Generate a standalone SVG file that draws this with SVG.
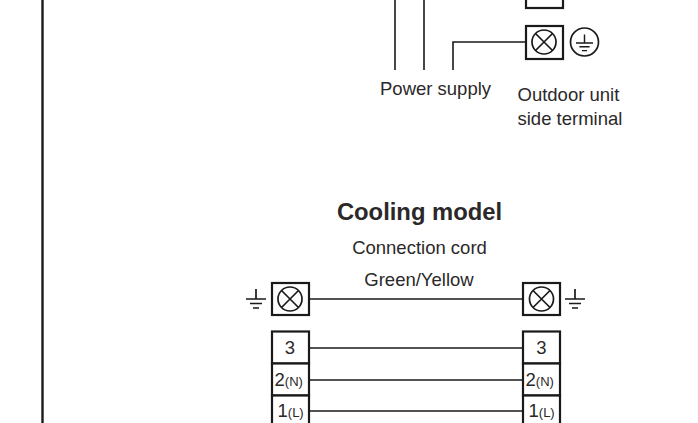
<svg xmlns="http://www.w3.org/2000/svg" width="698" height="423" viewBox="0 0 698 423">
<style>
.b{fill:#fff;stroke:#1a1a1a;stroke-width:2.2}
.w{fill:none;stroke:#1a1a1a;stroke-width:1.6}
.c{fill:none;stroke:#1a1a1a;stroke-width:1.7}
text{font-family:"Liberation Sans",Arial,sans-serif;fill:#2b2829;font-size:18.5px}
.n{font-size:18.500px}
.m{text-anchor:middle}
.s{font-size:13px}
</style>
<defs>
<g id="x"><circle r="12" class="c"/><path d="M-8.500-8.500L8.500 8.500M-8.500 8.500L8.500-8.500" class="c"/></g>
<g id="g"><path d="M0-10V0M-10 0H10M-6 4.500H6M-3 9H3" class="c"/></g>
</defs>
<rect width="698" height="423" fill="#fff"/>
<path d="M42.500 0V423" fill="none" stroke="#1a1a1a" stroke-width="2.400"/>
<g id="connectors">
<path class="w" d="M395 0V70M424 0V70M453 70V42H526"/>
<path class="w" d="M309 299H523M309 348H523M309 380H523M309 411H523"/>
</g>
<g id="outdoor-terminal-top"><rect class="b" x="526" y="-10" width="37" height="18"/></g>
<g id="outdoor-earth"><rect class="b" x="526" y="26" width="37" height="33"/><use href="#x" x="544" y="42"/><circle cx="584.500" cy="42" r="14" class="c"/><use href="#g" transform="translate(584.500 43) scale(.85)"/></g>
<g id="power-supply-label"><text x="380" y="95">Power supply</text></g>
<g id="outdoor-label"><text x="517.500" y="101">Outdoor unit</text><text x="517.500" y="125">side terminal</text></g>
<g id="title"><text x="419.500" y="220" text-anchor="middle" font-weight="bold" style="font-size:23.800px">Cooling model</text></g>
<g id="cord-label"><text x="419.500" y="254" class="m">Connection cord</text><text x="419" y="286" class="m">Green/Yellow</text></g>
<g id="left-earth"><rect class="b" x="272" y="283" width="37" height="32"/><use href="#x" x="290" y="299"/><use href="#g" x="256" y="299"/></g>
<g id="right-earth"><rect class="b" x="523" y="283" width="37" height="32"/><use href="#x" x="541.500" y="299"/><use href="#g" x="575" y="299"/></g>
<g id="left-terminals"><rect class="b" x="272" y="331.500" width="37" height="32"/><rect class="b" x="272" y="363.500" width="37" height="32"/><rect class="b" x="272" y="395.500" width="37" height="40"/>
<text class="n m" x="290" y="354">3</text><text class="n" x="274.500" y="386">2<tspan class="s">(N)</tspan></text><text class="n" x="277.500" y="417">1<tspan class="s">(L)</tspan></text></g>
<g id="right-terminals"><rect class="b" x="523" y="331.500" width="37" height="32"/><rect class="b" x="523" y="363.500" width="37" height="32"/><rect class="b" x="523" y="395.500" width="37" height="40"/>
<text class="n m" x="541.500" y="354">3</text><text class="n" x="525.500" y="386">2<tspan class="s">(N)</tspan></text><text class="n" x="528.500" y="417">1<tspan class="s">(L)</tspan></text></g>
</svg>
